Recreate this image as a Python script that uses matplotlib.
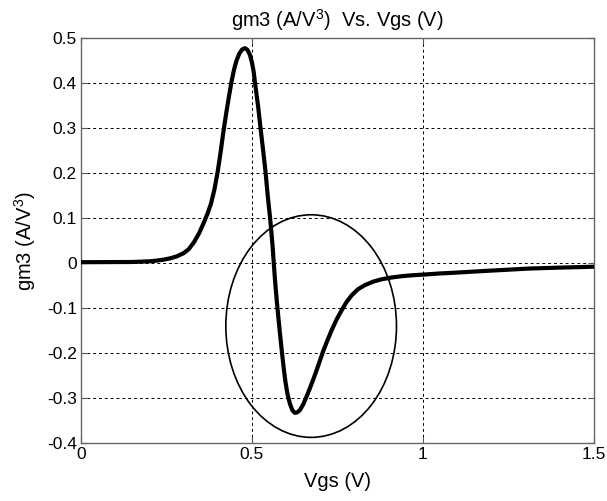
import matplotlib
matplotlib.use("Agg")
import matplotlib.pyplot as plt
from matplotlib.patches import Ellipse

plt.rcParams['font.family'] = ['Liberation Sans', 'DejaVu Sans']
plt.rcParams['mathtext.fontset'] = 'custom'
plt.rcParams['mathtext.rm'] = 'Liberation Sans'
plt.rcParams['mathtext.it'] = 'Liberation Sans'
plt.rcParams['axes.unicode_minus'] = False

# gm3 (third-order transconductance derivative) versus gate voltage
vgs = [0.000, 0.150, 0.200, 0.220, 0.240, 0.260, 0.280, 0.300, 0.315,
       0.330, 0.345, 0.358, 0.370, 0.380, 0.390, 0.399, 0.408, 0.416,
       0.425, 0.433, 0.4405, 0.448, 0.455, 0.463, 0.471, 0.4795, 0.487,
       0.494, 0.500, 0.505, 0.509, 0.518, 0.525, 0.533, 0.540, 0.546,
       0.553, 0.560, 0.567, 0.572, 0.577, 0.582, 0.587, 0.593, 0.598,
       0.604, 0.611, 0.618, 0.625, 0.632, 0.640, 0.650, 0.660, 0.670,
       0.680, 0.689, 0.699, 0.709, 0.721, 0.733, 0.747, 0.762, 0.776,
       0.791, 0.810, 0.830, 0.855, 0.879, 0.908, 0.938, 0.970, 1.001,
       1.050, 1.100, 1.167, 1.240, 1.313, 1.400, 1.500]
gm3 = [0.002, 0.0025, 0.004, 0.0055, 0.0075, 0.0105, 0.015, 0.022, 0.031,
       0.046, 0.066, 0.088, 0.110, 0.132, 0.163, 0.200, 0.245, 0.290,
       0.335, 0.372, 0.405, 0.432, 0.451, 0.466, 0.475, 0.478, 0.474,
       0.463, 0.446, 0.425, 0.400, 0.348, 0.300, 0.248, 0.200, 0.150,
       0.100, 0.040, -0.035, -0.080, -0.120, -0.158, -0.194, -0.235, -0.265,
       -0.292, -0.313, -0.327, -0.333, -0.332, -0.327, -0.314, -0.296, -0.277,
       -0.257, -0.238, -0.216, -0.194, -0.171, -0.149, -0.126, -0.105, -0.087,
       -0.072, -0.058, -0.049, -0.041, -0.036, -0.032, -0.029, -0.027, -0.0255,
       -0.023, -0.021, -0.018, -0.015, -0.012, -0.010, -0.008]

x_ticks = [0, 0.5, 1, 1.5]
x_tick_labels = ['0', '0.5', '1', '1.5']
y_ticks = [-0.4, -0.3, -0.2, -0.1, 0, 0.1, 0.2, 0.3, 0.4, 0.5]
y_tick_labels = ['-0.4', '-0.3', '-0.2', '-0.1', '0', '0.1', '0.2', '0.3', '0.4', '0.5']

# highlighted region (ellipse center and extent, in data units)
ellipse_center = (0.673, -0.140)
ellipse_width = 0.499
ellipse_height = 0.495

fig = plt.figure(figsize=(6.07, 5.01), dpi=100)
ax = fig.add_axes([0.1334, 0.1158, 0.8452, 0.8078])

ax.plot(vgs, gm3, color='black', linewidth=3.0, solid_capstyle='round',
        solid_joinstyle='round', zorder=3)

ax.add_patch(Ellipse(ellipse_center, ellipse_width, ellipse_height,
                     fill=False, edgecolor='black', linewidth=1.2, zorder=4))

ax.set_xlim(0, 1.5)
ax.set_ylim(-0.4, 0.5)
ax.set_xticks(x_ticks)
ax.set_xticklabels(x_tick_labels)
ax.set_yticks(y_ticks)
ax.set_yticklabels(y_tick_labels)

ax.grid(True, color='black', linestyle=(0, (3, 3)), linewidth=0.7)
ax.set_axisbelow(True)

ax.tick_params(direction='in', length=4, width=0.8, labelsize=12.5,
               top=True, right=True, colors='#555555', labelcolor='black',
               pad=3)
for sp in ax.spines.values():
    sp.set_color('#666666')
    sp.set_linewidth(1.0)

ax.set_title('gm3 (A/V$^3$)  Vs. Vgs (V)', fontsize=14.5, pad=8)
ax.set_xlabel('Vgs (V)', fontsize=14.5, labelpad=7)
ax.set_ylabel('gm3 (A/V$^3$)', fontsize=14.5, labelpad=6)

fig.savefig('out.png', dpi=100)
